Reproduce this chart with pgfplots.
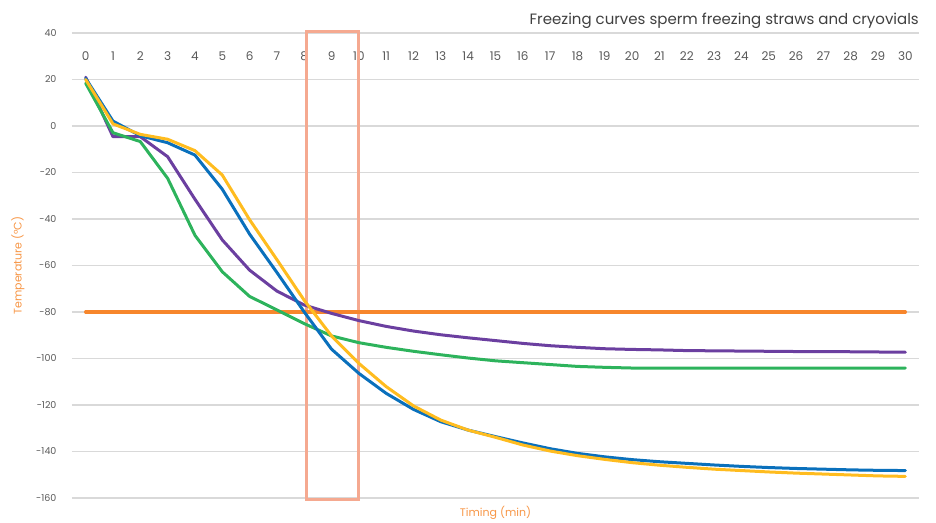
\documentclass[border=0pt]{standalone}
\usepackage{pgfplots}
\pgfplotsset{compat=1.18}
\usepackage{fontspec}
\setmainfont{Poppins}
\definecolor{cpurple}{HTML}{6B3FA0}
\definecolor{cgreen}{HTML}{2DB35C}
\definecolor{cblue}{HTML}{0A70BC}
\definecolor{cyellow}{HTML}{FFBC1F}
\definecolor{corange}{HTML}{F7862C}
\definecolor{cbox}{HTML}{F5A990}
\definecolor{gridgray}{HTML}{D9D9D9}
\definecolor{tickgray}{HTML}{595959}
\definecolor{titlegray}{HTML}{404040}
\definecolor{labelorange}{HTML}{F79646}
\begin{document}
\begin{tikzpicture}
\begin{axis}[
  at={(0,0)}, anchor=south west,
  scale only axis, width=847pt, height=465pt,
  xmin=-0.5, xmax=30.5, ymin=-160, ymax=40,
  axis line style={draw=none}, tick style={draw=none},
  ytick={-160,-140,...,40}, xtick={0,1,...,30},
  ymajorgrids, grid style={color=gridgray, line width=1.2pt},
  xticklabel pos=upper,
  xticklabel style={font=\fontsize{12}{14}\selectfont, text=tickgray, anchor=center, yshift=-23pt},
  yticklabel style={font=\fontsize{9.5}{11}\selectfont, text=tickgray, anchor=east, xshift=-12pt},
  /pgf/number format/assume math mode=true,
  clip=false,
  xlabel={Timing (min)}, ylabel={Temperature (°C)},
  every axis x label/.style={at={(rel axis cs:0.5,0)}, yshift=-15pt, anchor=center, font=\fontsize{11}{13}\selectfont, text=labelorange},
  every axis y label/.style={at={(rel axis cs:0,0.5)}, xshift=-54pt, rotate=90, anchor=center, font=\fontsize{11}{13}\selectfont, text=labelorange},
  every axis plot/.append style={line join=round, line cap=round},
]
\addplot[cbox, line width=3pt, line cap=butt, line join=miter] coordinates {(8.07,-160.5) (10,-160.5) (10,40.8) (8.07,40.8)} -- cycle;
\addplot[corange, line width=3.3pt] coordinates {(0,-80) (30,-80)};
\addplot[cpurple, line width=3pt] coordinates {(0,21)(1,-4.6)(2,-4.6)(3,-13.2)(4,-31.5)(5,-49)(6,-62)(7,-71)(8,-77)(9,-80.6)(10,-83.7)(11,-86.2)(12,-88.2)(13,-89.8)(14,-91.1)(15,-92.3)(16,-93.5)(17,-94.5)(18,-95.2)(19,-95.8)(20,-96.1)(21,-96.3)(22,-96.6)(23,-96.7)(24,-96.8)(25,-96.9)(26,-97)(27,-97)(28,-97.1)(29,-97.2)(30,-97.3)};
\addplot[cgreen, line width=3pt] coordinates {(0,18.4)(1,-2.9)(2,-6.7)(3,-22.5)(4,-47)(5,-62.7)(6,-73.3)(7,-79.1)(8,-85)(9,-90.3)(10,-93.2)(11,-95.2)(12,-96.9)(13,-98.4)(14,-99.8)(15,-101)(16,-101.8)(17,-102.6)(18,-103.4)(19,-103.8)(20,-104.1)(21,-104.1)(22,-104.1)(23,-104.1)(24,-104.1)(25,-104.1)(26,-104.1)(27,-104.1)(28,-104.1)(29,-104.1)(30,-104.1)};
\addplot[cblue, line width=3pt] coordinates {(0,20.5)(1,2.1)(2,-4.2)(3,-7.2)(4,-12.5)(5,-27.2)(6,-46.5)(7,-63)(8,-80)(9,-96)(10,-106.4)(11,-115)(12,-121.9)(13,-127.2)(14,-130.8)(15,-133.6)(16,-136.3)(17,-138.8)(18,-140.8)(19,-142.3)(20,-143.5)(21,-144.4)(22,-145.1)(23,-145.8)(24,-146.4)(25,-146.9)(26,-147.3)(27,-147.6)(28,-147.9)(29,-148.1)(30,-148.2)};
\addplot[cyellow, line width=3pt] coordinates {(0,20)(1,0.9)(2,-3.6)(3,-5.7)(4,-10.6)(5,-21.1)(6,-40.3)(7,-57.5)(8,-75)(9,-90.3)(10,-102.1)(11,-112.1)(12,-120.4)(13,-126.5)(14,-130.8)(15,-133.9)(16,-137.2)(17,-139.8)(18,-141.8)(19,-143.4)(20,-144.8)(21,-145.9)(22,-146.8)(23,-147.6)(24,-148.2)(25,-148.8)(26,-149.3)(27,-149.7)(28,-150.1)(29,-150.5)(30,-150.7)};
\node[anchor=base east, font=\fontsize{15}{18}\selectfont, text=titlegray, inner sep=0pt] at ([yshift=8pt]rel axis cs:1,1) {Freezing curves sperm freezing straws and cryovials};
\end{axis}
\pgfresetboundingbox
\path[use as bounding box] (-72pt,-24pt) rectangle (864pt,498pt);
\end{tikzpicture}
\end{document}
